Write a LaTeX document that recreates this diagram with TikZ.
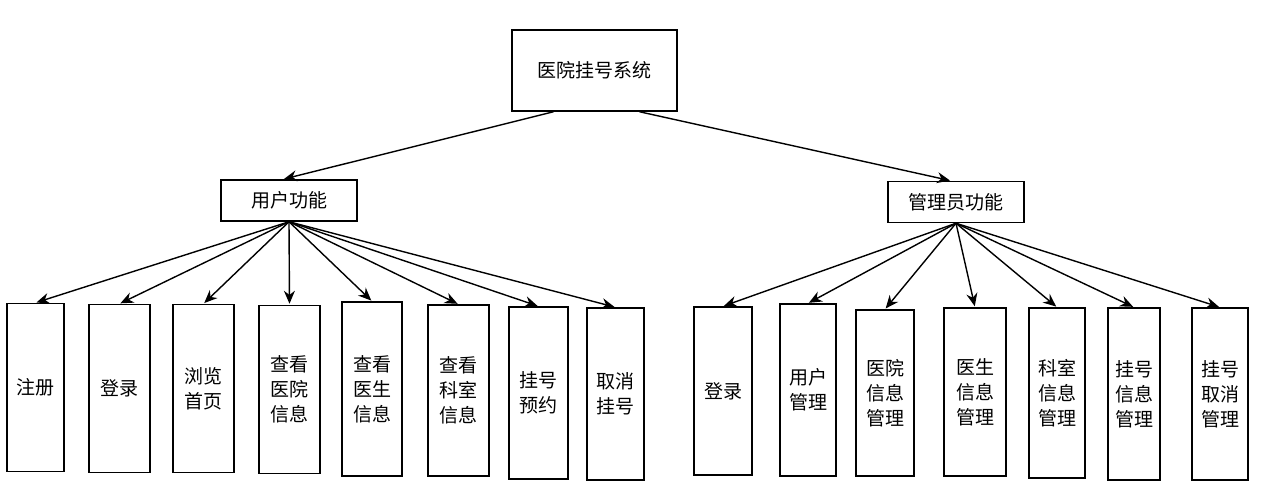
\documentclass[tikz,border=0pt]{standalone}
\usepackage{fontspec}
\newfontfamily\cjk{Noto Sans CJK SC}
\usepackage{tikz}
\usetikzlibrary{arrows.meta, positioning}

\tikzset{
  sysbox/.style={draw, line width=1.5pt, font=\cjk\fontsize{19}{24}\selectfont, minimum width=165pt, minimum height=81pt, inner sep=0pt},
  groupbox/.style={draw, line width=1.5pt, font=\cjk\fontsize{19}{24}\selectfont, minimum width=136pt, minimum height=41pt, inner sep=0pt},
  leafbox/.style={draw, line width=1.5pt, font=\cjk\fontsize{19}{25}\selectfont, align=center, minimum height=168pt, inner sep=0pt},
  arr/.style={-{Stealth[length=13pt,width=11pt]}, line width=1.4pt, shorten >=1pt}
}

\begin{document}
\begin{tikzpicture}[x=1pt, y=-1pt]
  \useasboundingbox (0,0) rectangle (1280,498);

  % top level
  \node[sysbox] (sys) at (594.5,70.5) {医院挂号系统};
  \node[groupbox] (user) at (289,200.5) {用户功能};
  \node[groupbox] (admin) at (956,202) {管理员功能};

  \draw[arr] ([xshift=-41pt]sys.south) -- ([xshift=-6pt]user.north);
  \draw[arr] ([xshift=45pt]sys.south) -- ([xshift=-5pt]admin.north);

  % user functions
  \node[leafbox, minimum width=57pt] (zhuce) at (35.5,387.5) {注册};
  \node[leafbox, minimum width=61pt] (denglu) at (119.5,388.5) {登录};
  \node[leafbox, minimum width=61pt] (liulan) at (203.5,388.5) {浏览\\首页};
  \node[leafbox, minimum width=61pt] (ckyiyuan) at (289.5,389.5) {查看\\医院\\信息};
  \node[leafbox, minimum width=60pt, minimum height=174pt] (ckyisheng) at (372,389) {查看\\医生\\信息};
  \node[leafbox, minimum width=61pt, minimum height=171pt] (ckkeshi) at (458.5,390.5) {查看\\科室\\信息};
  \node[leafbox, minimum width=59pt, minimum height=172pt] (guahao) at (538.5,393) {挂号\\预约};
  \node[leafbox, minimum width=57pt, minimum height=172pt] (quxiao) at (615.5,394) {取消\\挂号};

  \foreach \leaf in {zhuce, denglu, liulan, ckyiyuan, ckyisheng, ckkeshi, guahao, quxiao}
    \draw[arr] (user.south) -- (\leaf.north);

  % admin functions
  \node[leafbox, minimum width=58pt] (gldenglu) at (723,391) {登录};
  \node[leafbox, minimum width=56pt, minimum height=172pt] (glyonghu) at (808,390) {用户\\管理};
  \node[leafbox, minimum width=58pt, minimum height=166pt] (glyiyuan) at (885,393) {医院\\信息\\管理};
  \node[leafbox, minimum width=62pt] (glyisheng) at (975,392) {医生\\信息\\管理};
  \node[leafbox, minimum width=56pt, minimum height=170pt] (glkeshi) at (1057,393) {科室\\信息\\管理};
  \node[leafbox, minimum width=52pt, minimum height=172pt] (glguahao) at (1134,394) {挂号\\信息\\管理};
  \node[leafbox, minimum width=56pt, minimum height=172pt] (glquxiao) at (1220,394) {挂号\\取消\\管理};

  \foreach \leaf in {gldenglu, glyonghu, glyiyuan, glyisheng, glkeshi, glguahao, glquxiao}
    \draw[arr] (admin.south) -- (\leaf.north);
\end{tikzpicture}
\end{document}
